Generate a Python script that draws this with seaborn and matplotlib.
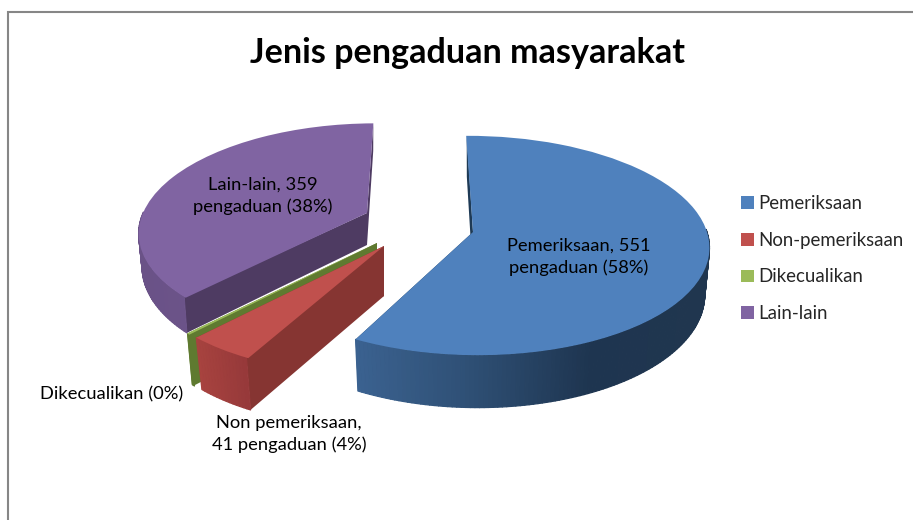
import numpy as np
import matplotlib
matplotlib.use("Agg")
import matplotlib.pyplot as plt
from matplotlib.collections import PolyCollection
from matplotlib.colors import LinearSegmentedColormap
from matplotlib.transforms import Transform
import seaborn as sns

# --- data ---
categories = ["Pemeriksaan", "Non-pemeriksaan", "Dikecualikan", "Lain-lain"]
values = [551, 41, 2, 359]
slice_labels = ["Pemeriksaan, 551\npengaduan (58%)",
                "Non pemeriksaan,\n41 pengaduan (4%)",
                "Dikecualikan (0%)",
                "Lain-lain, 359\npengaduan (38%)"]
title = "Jenis pengaduan masyarakat"
top_colors = ["#4F81BD", "#C0504D", "#9BBB59", "#8064A2"]

# --- style of the fake 3D projection (pixels), per slice ---
# apex x, apex y, rx, ry, perspective, shear, depth, taper
proj = [(473, 232, 234, 108, .123, -5, 46, .02),
        (384, 246, 245, 121, .05, 19, 50, .03),
        (377, 243, 245, 121, .05, 19, 49, .025),
        (367, 213, 224, 104, .16, 8, 32, .015)]
radial_wall = ["#1E3A55", "#863532", "#5F7A30", "#4E3B62"]
outer_wall = [["#3B6290", "#2E4F74", "#1E3550", "#20364F"],
              ["#A8433F", "#96393A"],
              ["#5F7A30", "#5F7A30"],
              ["#6A5287", "#6F5690"]]
label_pos = [(579, 257), (289, 434), (112, 394), (263, 196)]

sns.set_theme(style="white")
plt.rcParams["font.family"] = ["Lato", "DejaVu Sans"]


class Persp(Transform):
    input_dims = 2
    output_dims = 2
    has_inverse = False

    def __init__(self, cx, cy, rx, ry, k, sh):
        super().__init__()
        self.p = (cx, cy, rx, ry, k, sh)

    def transform_non_affine(self, xy):
        cx, cy, rx, ry, k, sh = self.p
        xy = np.asarray(xy, float)
        u, v = xy[:, 0], xy[:, 1]
        w = 1 + k * v
        return np.column_stack([cx + rx * u / w + sh * v, cy - ry * v / w])


fig = plt.figure(figsize=(9.13, 5.2), dpi=100, facecolor="white")
ax = fig.add_axes([0, 0, 1, 1])
palette = sns.color_palette(top_colors)
wedges, _ = ax.pie(values, colors=palette, startangle=90.5, counterclock=False,
                   wedgeprops=dict(linewidth=0))
ax.set_aspect("auto")
ax.set_xlim(0, 913)
ax.set_ylim(520, 0)
ax.set_axis_off()

draw_order = [3, 2, 1, 0]
for rank, i in enumerate(draw_order):
    wedge = wedges[i]
    cx, cy, rx, ry, k, sh, depth, taper = proj[i]
    tf = Persp(cx, cy, rx, ry, k, sh)
    wedge.set_transform(tf + ax.transData)
    base_z = 1 + rank * 4
    wedge.set_zorder(base_z + 3)

    th = np.radians(np.arange(wedge.theta1, wedge.theta2 + .01,
                              min(1.0, (wedge.theta2 - wedge.theta1))))
    uv = np.column_stack([np.cos(th), np.sin(th)])
    top = tf.transform_non_affine(uv)
    w = 1 + k * uv[:, 1]
    bot = np.column_stack([top[:, 0] + taper * (cx - top[:, 0]), top[:, 1] + depth / w])

    # radial side walls
    apex_t = np.array([cx, cy], float)
    apex_b = apex_t + [0, depth]
    for end in (0, -1):
        poly = np.array([apex_t, top[end], bot[end], apex_b])
        ax.fill(poly[:, 0], poly[:, 1], color=radial_wall[i], lw=0, zorder=base_z)

    # outer curved wall (front part only), shaded by horizontal position
    cmap = LinearSegmentedColormap.from_list("w", outer_wall[i])
    span = max(np.ptp(top[:, 0]), 1)
    front = [j for j in range(len(top) - 1) if uv[j, 1] < .02]
    mids = np.array([.5 * (top[j, 0] + top[j + 1, 0]) for j in front])
    shade = (mids - top[:, 0].min()) / span
    quads = [np.array([top[j], top[j + 1], bot[j + 1], bot[j]]) for j in front]
    cols = cmap(shade)
    ax.add_collection(PolyCollection(quads, facecolors=cols, edgecolors=cols,
                                     linewidths=.9, zorder=base_z + 1))

for txt, (x, y) in zip(slice_labels, label_pos):
    ax.text(x, y, txt, ha="center", va="center", fontsize=13.2, color="black",
            linespacing=1.45, zorder=50)

ax.text(468, 53, title, ha="center", va="center", fontsize=24.6, fontweight="bold",
        color="black", zorder=50)

ax.legend(wedges, categories, loc="upper left", bbox_to_anchor=(732, 186),
          bbox_transform=ax.transData, frameon=False, fontsize=13.4,
          handlelength=.67, handleheight=.67, handletextpad=.24,
          labelspacing=1.05, borderpad=.5, borderaxespad=0)

# chart-area frame (top and left only: the rest is cropped in the source)
ax.plot([8, 8, 913], [520, 12, 12], color="#868686", lw=1.5, solid_joinstyle="miter",
        clip_on=False, zorder=60)

fig.savefig("out.png", dpi=100)
